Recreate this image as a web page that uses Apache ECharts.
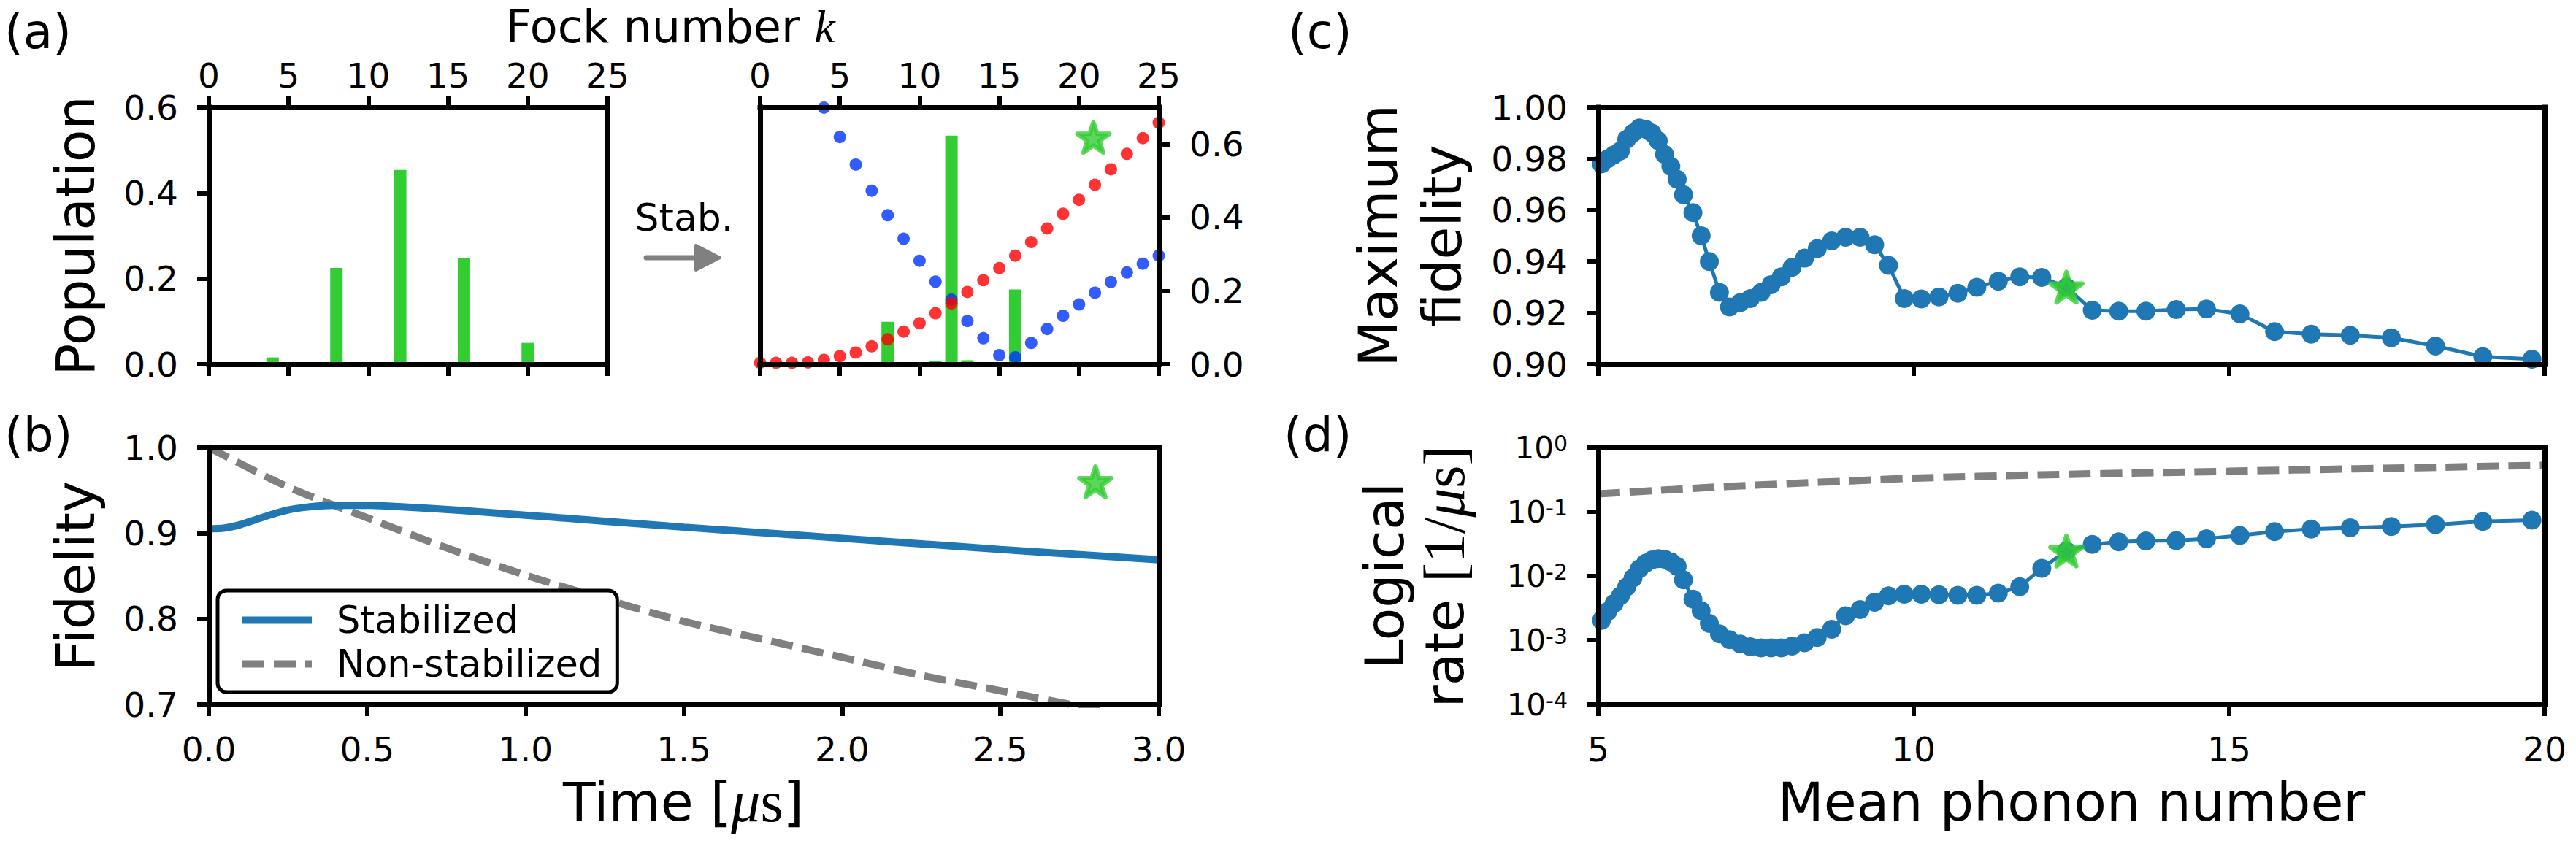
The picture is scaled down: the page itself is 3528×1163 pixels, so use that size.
<!DOCTYPE html>
<html>
<head>
<meta charset="utf-8">
<script src="https://cdn.jsdelivr.net/npm/echarts@6/dist/echarts.min.js"></script>
<style>
  html, body { margin: 0; padding: 0; background: #fff; }
  #main { width: 3528px; height: 1163px; }
</style>
</head>
<body>
<div id="main"></div>
<script>
// (a) Fock populations before / after stabilization
var popBeforeK = [4, 8, 12, 16, 20];
var popBeforeVal = [0.016, 0.225, 0.454, 0.248, 0.050];
var popAfterK = [8, 11, 12, 13, 16];
var popAfterVal = [0.116, 0.009, 0.623, 0.011, 0.204];
var redK = [0, 1, 2, 3, 4, 5, 6, 7, 8, 9, 10, 11, 12, 13, 14, 15, 16, 17, 18, 19, 20, 21, 22, 23, 24, 25];
var redVal = [0.004, 0.004, 0.004, 0.005, 0.012, 0.022, 0.032, 0.049, 0.068, 0.089, 0.112, 0.139, 0.166, 0.197,
  0.229, 0.262, 0.296, 0.333, 0.370, 0.410, 0.448, 0.489, 0.531, 0.573, 0.616, 0.658];
var blueK = [4, 5, 6, 7, 8, 9, 10, 11, 12, 13, 14, 15, 16, 17, 18, 19, 20, 21, 22, 23, 24, 25];
var blueVal = [0.699, 0.619, 0.544, 0.473, 0.406, 0.342, 0.282, 0.225, 0.176, 0.118, 0.071, 0.025, 0.019,
  0.058, 0.096, 0.132, 0.163, 0.195, 0.224, 0.250, 0.274, 0.296];
var starA = [20.9, 0.618];

// (b) fidelity vs time
var timeStab = [0, 0.05, 0.1, 0.15, 0.2, 0.25, 0.3, 0.35, 0.4, 0.5, 0.6, 0.8, 1.0, 1.25, 1.5, 1.75, 2.0, 2.25, 2.5, 2.75, 3.0];
var fidStab = [0.905, 0.906, 0.910, 0.916, 0.922, 0.927, 0.930, 0.9318, 0.9325, 0.9325, 0.931, 0.9265, 0.921,
  0.914, 0.907, 0.9005, 0.894, 0.8875, 0.881, 0.875, 0.869];
var timeNon = [0, 0.25, 0.5, 0.75, 1.0, 1.25, 1.5, 1.75, 2.0, 2.25, 2.5, 2.75, 3.0];
var fidNon = [1.0, 0.954, 0.918, 0.883, 0.851, 0.823, 0.797, 0.776, 0.755, 0.734, 0.716, 0.698, 0.681];
var starB = [2.8, 0.96];

// (c),(d) vs mean phonon number
var nbar = [5.05, 5.15, 5.25, 5.35, 5.45, 5.55, 5.65, 5.75, 5.85, 5.95, 6.05, 6.15, 6.25, 6.35,
  6.5, 6.63, 6.76, 6.92, 7.08, 7.25, 7.41, 7.58, 7.74, 7.9,
  8.07, 8.27, 8.47, 8.7, 8.92, 9.15, 9.38, 9.6, 9.85,
  10.12, 10.4, 10.7, 11.0, 11.34, 11.68, 12.03, 12.42,
  12.83, 13.25, 13.68, 14.16, 14.64,
  15.17, 15.72, 16.3, 16.92, 17.57, 18.27, 19.02, 19.8];
var maxFid = [0.978, 0.980, 0.9815, 0.983, 0.9876, 0.990, 0.992, 0.9915, 0.990, 0.987, 0.9817, 0.977, 0.972, 0.966,
  0.959, 0.950, 0.940, 0.928, 0.9223, 0.924, 0.9256, 0.928, 0.931, 0.934,
  0.9377, 0.9413, 0.945, 0.948, 0.9494, 0.9494, 0.9465, 0.9385, 0.9256,
  0.9254, 0.9262, 0.9276, 0.930, 0.9323, 0.934, 0.9338, 0.930,
  0.921, 0.9207, 0.9207, 0.9213, 0.9215,
  0.9196, 0.9127, 0.9117, 0.9113, 0.9103, 0.9071, 0.903, 0.902];
var logRate = [0.00204, 0.00282, 0.00372, 0.0049, 0.00676, 0.00933, 0.0129, 0.0158, 0.0178, 0.0186, 0.0182, 0.0166, 0.0141, 0.0087,
  0.00437, 0.00288, 0.00182, 0.00126, 0.00102, 0.00087, 0.00079, 0.00076, 0.00076, 0.00076,
  0.00081, 0.00091, 0.0011, 0.00148, 0.0024, 0.003, 0.0039, 0.0049, 0.0052,
  0.0052, 0.0051, 0.005, 0.005, 0.0054, 0.0068, 0.0132, 0.0245,
  0.031, 0.034, 0.035, 0.0355, 0.038,
  0.0427, 0.049, 0.0537, 0.0562, 0.0589, 0.063, 0.0708, 0.0741];
var nbarNon = [5, 6, 7, 8, 9, 10, 12, 14, 16, 18, 20];
var rateNon = [0.190, 0.216, 0.246, 0.274, 0.302, 0.333, 0.375, 0.408, 0.446, 0.485, 0.530];
var starN = 12.42, starFid = 0.930, starRate = 0.0245;

var FONT = 'DejaVu Sans';
var SERIF = 'Liberation Serif';
var GREEN = '#32cd32';
var BLUE = '#1f77b4';
var GRAY = '#808080';
var STAR = 'path://M50,0 L61.23,34.55 L97.55,34.55 L68.17,55.9 L79.39,90.45 L50,69.1 L20.61,90.45 L31.83,55.9 L2.45,34.55 L38.77,34.55 Z';

function zip(xs, ys) {
  return xs.map(function (x, i) { return [x, ys[i]]; });
}

var lineSt = { color: '#000', width: 7, cap: 'square' };
var tickSt = { show: true, length: 16, inside: false, lineStyle: { color: '#000', width: 6 } };

// axis with ticks (and maybe labels)
function axis(grid, pos, min, max, interval, labels, extra) {
  var a = {
    type: 'value', gridIndex: grid, position: pos, min: min, max: max, interval: interval, z: 10,
    axisLine: { show: true, onZero: false, lineStyle: lineSt },
    axisTick: tickSt,
    splitLine: { show: false },
    axisLabel: labels ? Object.assign({ show: true, fontSize: 47, lineHeight: 50, color: '#000', fontFamily: FONT }, labels) : { show: false }
  };
  return Object.assign(a, extra || {});
}
// plain spine
function spine(grid, pos) {
  return {
    type: 'value', gridIndex: grid, position: pos, min: 0, max: 1, z: 10,
    axisLine: { show: true, onZero: false, lineStyle: lineSt },
    axisTick: { show: false }, axisLabel: { show: false }, splitLine: { show: false }
  };
}

var xAxes = [
  axis(0, 'bottom', 0, 25, 5, null),
  axis(0, 'top', 0, 25, 5, { margin: 19 }),
  axis(1, 'bottom', 0, 25, 5, null),
  axis(1, 'top', 0, 25, 5, { margin: 19 }),
  axis(2, 'bottom', 0, 3, 0.5, { margin: 36, formatter: function (v) { return v.toFixed(1); } }),
  spine(2, 'top'),
  axis(3, 'bottom', 5, 20, 5, null),
  spine(3, 'top'),
  axis(4, 'bottom', 5, 20, 5, { margin: 36 }),
  spine(4, 'top')
];

var yAxes = [
  axis(0, 'left', 0, 0.6, 0.2, { margin: 42, formatter: function (v) { return v.toFixed(1); } }),
  spine(0, 'right'),
  spine(1, 'left'),
  axis(1, 'right', 0, 0.7, 0.2, { margin: 42, customValues: [0, 0.2, 0.4, 0.6], formatter: function (v) { return v.toFixed(1); } },
    { axisTick: Object.assign({ customValues: [0, 0.2, 0.4, 0.6] }, tickSt) }),
  axis(2, 'left', 0.7, 1.0, 0.1, { margin: 42, formatter: function (v) { return v.toFixed(1); } }),
  spine(2, 'right'),
  axis(3, 'left', 0.9, 1.0, 0.02, { margin: 42, formatter: function (v) { return v.toFixed(2); } }),
  spine(3, 'right'),
  {
    type: 'log', logBase: 10, gridIndex: 4, position: 'left', min: 0.0001, max: 1, z: 10,
    axisLine: { show: true, onZero: false, lineStyle: lineSt },
    axisTick: tickSt, splitLine: { show: false }, minorTick: { show: false },
    axisLabel: {
      margin: 42, color: '#000',
      formatter: function (v) { return '{b|10}{s|' + Math.round(Math.log10(v)) + '}'; },
      rich: {
        b: { fontSize: 42, lineHeight: 42, fontFamily: FONT, color: '#000' },
        s: { fontSize: 30, lineHeight: 30, fontFamily: FONT, color: '#000', verticalAlign: 'top', padding: [0, 0, 26, 0] }
      }
    }
  },
  spine(4, 'right')
];

function starSeries(x, y, xi, yi) {
  return {
    type: 'scatter', xAxisIndex: xi, yAxisIndex: yi, data: [[x, y]], z: 6,
    symbol: STAR, symbolSize: 44, symbolKeepAspect: true,
    itemStyle: { color: GREEN, borderColor: GREEN, borderWidth: 6, borderJoin: 'round' }
  };
}

function letter(txt, x, y) {
  return { type: 'text', x: x, y: y, style: { text: txt, fontSize: 66, fontFamily: FONT, fill: '#000', align: 'left', verticalAlign: 'top' } };
}

var option = {
  animation: false,
  backgroundColor: '#fff',
  grid: [
    { left: 286, top: 147, width: 546, height: 352 },
    { left: 1041, top: 147, width: 546, height: 352 },
    { left: 286, top: 613, width: 1301, height: 352 },
    { left: 2189, top: 147, width: 1296, height: 352 },
    { left: 2189, top: 613, width: 1296, height: 352 }
  ],
  xAxis: xAxes,
  yAxis: yAxes,
  legend: {
    data: ['Stabilized', 'Non-stabilized'],
    left: 298, top: 809, orient: 'vertical',
    padding: [15, 21, 13, 29], itemGap: 9, itemWidth: 95, itemHeight: 14,
    borderColor: '#000', borderWidth: 5, borderRadius: 12, backgroundColor: '#fff',
    itemStyle: { opacity: 0 },
    lineStyle: { width: 10 },
    textStyle: { fontSize: 51, lineHeight: 51, fontFamily: FONT, color: '#000', padding: [0, 0, 0, 29] }
  },
  series: [
    { type: 'bar', xAxisIndex: 0, yAxisIndex: 0, barWidth: 17, data: zip(popBeforeK, popBeforeVal), itemStyle: { color: GREEN } },
    { type: 'bar', xAxisIndex: 2, yAxisIndex: 3, barWidth: 17, data: zip(popAfterK, popAfterVal), itemStyle: { color: GREEN } },
    { type: 'scatter', xAxisIndex: 2, yAxisIndex: 3, symbolSize: 17, data: zip(blueK, blueVal), itemStyle: { color: '#0033ff' } },
    { type: 'scatter', xAxisIndex: 2, yAxisIndex: 3, symbolSize: 17, data: zip(redK, redVal), itemStyle: { color: '#ff0000' } },
    starSeries(starA[0], starA[1], 2, 3),

    { name: 'Non-stabilized', type: 'line', xAxisIndex: 4, yAxisIndex: 4, data: zip(timeNon, fidNon), smooth: 0.3,
      symbol: 'none', lineStyle: { color: GRAY, width: 10, type: [30, 13] }, itemStyle: { color: GRAY } },
    { name: 'Stabilized', type: 'line', xAxisIndex: 4, yAxisIndex: 4, data: zip(timeStab, fidStab), smooth: 0.3,
      symbol: 'none', lineStyle: { color: BLUE, width: 10 }, itemStyle: { color: BLUE } },
    starSeries(starB[0], starB[1], 4, 4),

    { type: 'line', xAxisIndex: 6, yAxisIndex: 6, data: zip(nbar, maxFid), symbol: 'circle', symbolSize: 26,
      showAllSymbol: true, lineStyle: { color: BLUE, width: 5 }, itemStyle: { color: BLUE } },
    starSeries(starN, starFid, 6, 6),

    { type: 'line', xAxisIndex: 8, yAxisIndex: 8, data: zip(nbarNon, rateNon), smooth: 0.3, symbol: 'none',
      lineStyle: { color: GRAY, width: 10, type: [30, 13] } },
    { type: 'line', xAxisIndex: 8, yAxisIndex: 8, data: zip(nbar, logRate), symbol: 'circle', symbolSize: 26,
      showAllSymbol: true, lineStyle: { color: BLUE, width: 5 }, itemStyle: { color: BLUE } },
    starSeries(starN, starRate, 8, 8)
  ],
  graphic: [
    // panel letters
    letter('(a)', 6, 10),
    letter('(b)', 6, 562),
    letter('(c)', 1764, 10),
    letter('(d)', 1758, 562),
    // axis titles
    { type: 'text', x: 918, y: 36, style: { text: '{a|Fock number }{k|k}', align: 'center', verticalAlign: 'middle',
      rich: { a: { fontSize: 62, lineHeight: 60, fontFamily: FONT, fill: '#000' }, k: { fontSize: 64, lineHeight: 60, fontFamily: SERIF, fontStyle: 'italic', fill: '#000' } } } },
    { type: 'text', x: 103, y: 323, rotation: Math.PI / 2, style: { text: 'Population', fontSize: 73, fontFamily: FONT, fill: '#000', align: 'center', verticalAlign: 'middle' } },
    { type: 'text', x: 103, y: 789, rotation: Math.PI / 2, style: { text: 'Fidelity', fontSize: 73, fontFamily: FONT, fill: '#000', align: 'center', verticalAlign: 'middle' } },
    { type: 'text', x: 936, y: 1098, style: { text: '{a|Time [}{m|μ}{s|s}{a|]}', align: 'center', verticalAlign: 'middle',
      rich: { a: { fontSize: 73, fontFamily: FONT, fill: '#000' }, m: { fontSize: 80, fontFamily: SERIF, fontStyle: 'italic', fill: '#000' }, s: { fontSize: 80, fontFamily: SERIF, fill: '#000' } } } },
    { type: 'text', x: 1887, y: 323, rotation: Math.PI / 2, style: { text: 'Maximum', fontSize: 73, fontFamily: FONT, fill: '#000', align: 'center', verticalAlign: 'middle' } },
    { type: 'text', x: 1975, y: 323, rotation: Math.PI / 2, style: { text: 'fidelity', fontSize: 73, fontFamily: FONT, fill: '#000', align: 'center', verticalAlign: 'middle' } },
    { type: 'text', x: 1896, y: 789, rotation: Math.PI / 2, style: { text: 'Logical', fontSize: 73, fontFamily: FONT, fill: '#000', align: 'center', verticalAlign: 'middle' } },
    { type: 'text', x: 1978, y: 790, rotation: Math.PI / 2, style: { text: '{a|rate }{s|[1/}{m|μ}{s|s]}', align: 'center', verticalAlign: 'middle',
      rich: { a: { fontSize: 73, fontFamily: FONT, fill: '#000' }, m: { fontSize: 80, fontFamily: SERIF, fontStyle: 'italic', fill: '#000' }, s: { fontSize: 80, fontFamily: SERIF, fill: '#000' } } } },
    { type: 'text', x: 2837, y: 1098, style: { text: 'Mean phonon number', fontSize: 73, fontFamily: FONT, fill: '#000', align: 'center', verticalAlign: 'middle' } },
    // "Stab." arrow between the two population panels
    { type: 'text', x: 937, y: 298, style: { text: 'Stab.', fontSize: 52, fontFamily: FONT, fill: '#000', align: 'center', verticalAlign: 'middle' } },
    { type: 'line', shape: { x1: 885, y1: 353, x2: 956, y2: 353 }, style: { stroke: GRAY, lineWidth: 7, lineCap: 'round' } },
    { type: 'polygon', shape: { points: [[953, 336], [953, 370], [986, 353]] }, style: { fill: GRAY, stroke: GRAY, lineWidth: 4, lineJoin: 'round' } }
  ]
};

var myChart = echarts.init(document.getElementById('main'), null, { renderer: 'svg' });
myChart.setOption(option);
</script>
</body>
</html>
